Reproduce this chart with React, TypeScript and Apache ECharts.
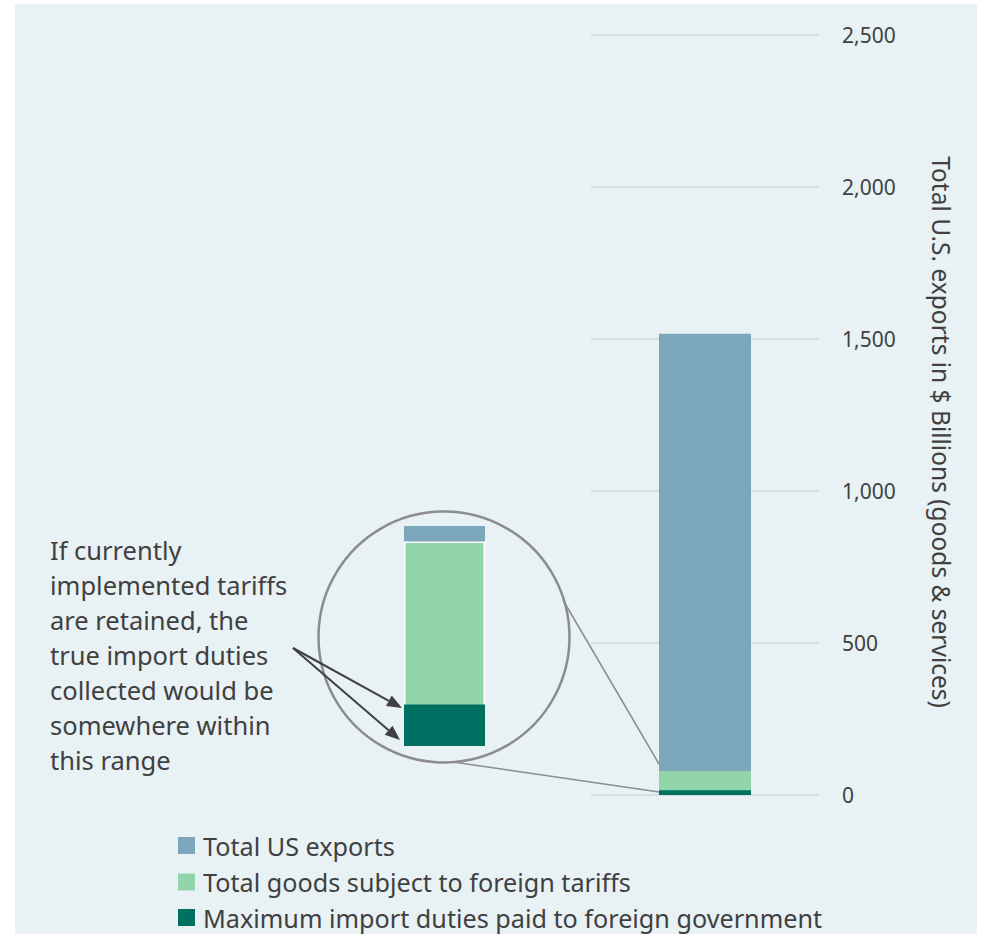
import React, { useEffect, useRef } from "react";
import * as echarts from "echarts";

// ---- data ----
const categories = ["U.S. exports"];
const totalExports = [1517];
const goodsSubjectToTariffs = [79];
const maxImportDuties = [16];
const seriesNames = [
  "Total US exports",
  "Total goods subject to foreign tariffs",
  "Maximum import duties paid to foreign government",
];
const yMin = 0;
const yMax = 2500;
const yInterval = 500;
const insetMax = 85;
const axisTitle = "Total U.S. exports in $ Billions (goods & services)";
const annotationLines = [
  "If currently",
  "implemented tariffs",
  "are retained, the",
  "true import duties",
  "collected would be",
  "somewhere within",
  "this range",
];

const COLORS = ["#7ba6bb", "#92d5ab", "#007062"];
const TEXT = "#404040";
const BG = "#e8f1f4";
const FONT = "'Noto Sans', 'Open Sans', sans-serif";

function arrow(x1: number, y1: number, x2: number, y2: number) {
  const dx = x2 - x1;
  const dy = y2 - y1;
  const len = Math.sqrt(dx * dx + dy * dy);
  const ux = dx / len;
  const uy = dy / len;
  const hl = 15;
  const hw = 6;
  const bx = x2 - ux * hl;
  const by = y2 - uy * hl;
  const px = -uy * hw;
  const py = ux * hw;
  return [
    {
      type: "line",
      shape: { x1, y1, x2: bx, y2: by },
      style: { stroke: TEXT, lineWidth: 2 },
      z: 20,
    },
    {
      type: "polygon",
      shape: {
        points: [
          [x2, y2],
          [bx + px, by + py],
          [bx - px, by - py],
        ],
      },
      style: { fill: TEXT },
      z: 20,
    },
  ];
}

export default function App() {
  const ref = useRef<HTMLDivElement>(null);

  useEffect(() => {
    document.body.style.margin = "0";
    if (!ref.current) return;
    const chart = echarts.init(ref.current, undefined, { renderer: "svg" });

    const barSeries = (gridIdx: number, width: number, withBorder: boolean) => [
      {
        name: seriesNames[0],
        type: "bar",
        xAxisIndex: gridIdx,
        yAxisIndex: gridIdx,
        data: totalExports,
        barWidth: width,
        barGap: "-100%",
        itemStyle: { color: COLORS[0] },
        z: 3,
      },
      {
        name: seriesNames[1],
        type: "bar",
        xAxisIndex: gridIdx,
        yAxisIndex: gridIdx,
        data: goodsSubjectToTariffs,
        barWidth: width,
        barGap: "-100%",
        itemStyle: withBorder
          ? { color: COLORS[1], borderColor: "#ffffff", borderWidth: 1.5 }
          : { color: COLORS[1] },
        z: 4,
      },
      {
        name: seriesNames[2],
        type: "bar",
        xAxisIndex: gridIdx,
        yAxisIndex: gridIdx,
        data: maxImportDuties,
        barWidth: width,
        barGap: "-100%",
        itemStyle: { color: COLORS[2] },
        z: 5,
      },
    ];

    const legendTops = [833, 869.5, 905];
    const legends = seriesNames.map((name, i) => ({
      orient: "horizontal",
      left: 178,
      top: legendTops[i],
      padding: 0,
      itemWidth: 17,
      itemHeight: 17,
      icon: "rect",
      data: [name],
      selectedMode: false,
      textStyle: {
        color: TEXT,
        fontSize: 25.2,
        fontFamily: FONT,
        lineHeight: 24,
        padding: [0, 0, 0, 3],
      },
    }));

    const option: any = {
      animation: false,
      textStyle: { fontFamily: FONT },
      grid: [
        { left: 591, right: 164, top: 35, bottom: 139 },
        { left: 404, right: 498, top: 526, bottom: 188 },
      ],
      xAxis: [
        {
          type: "category",
          gridIndex: 0,
          data: categories,
          axisLine: { show: false },
          axisTick: { show: false },
          axisLabel: { show: false },
        },
        {
          type: "category",
          gridIndex: 1,
          data: categories,
          axisLine: { show: false },
          axisTick: { show: false },
          axisLabel: { show: false },
        },
      ],
      yAxis: [
        {
          type: "value",
          gridIndex: 0,
          position: "right",
          min: yMin,
          max: yMax,
          interval: yInterval,
          axisLine: { show: false },
          axisTick: { show: false },
          splitLine: { lineStyle: { color: "#d6dee2", width: 2 } },
          axisLabel: {
            color: TEXT,
            fontSize: 21,
            fontFamily: FONT,
            margin: 23,
            formatter: (v: number) => v.toLocaleString("en-US"),
          },
        },
        {
          type: "value",
          gridIndex: 1,
          min: 0,
          max: insetMax,
          show: false,
          splitLine: { show: false },
        },
      ],
      legend: legends,
      graphic: [
        {
          type: "rect",
          shape: { x: 15, y: 4, width: 962, height: 940 },
          style: { fill: BG },
          z: -10,
          silent: true,
        },
        {
          type: "circle",
          shape: { cx: 444, cy: 637, r: 125.5 },
          style: { fill: "none", stroke: "#8c8c8c", lineWidth: 2.5 },
          z: 10,
        },
        {
          type: "line",
          shape: { x1: 563, y1: 600, x2: 659, y2: 764 },
          style: { stroke: "#8c8c8c", lineWidth: 1.5 },
          z: 10,
        },
        {
          type: "line",
          shape: { x1: 453, y1: 762, x2: 659, y2: 792 },
          style: { stroke: "#8c8c8c", lineWidth: 1.5 },
          z: 10,
        },
        ...arrow(293, 648, 402, 708),
        ...arrow(293, 648, 400, 740),
        {
          type: "text",
          x: 50,
          y: 532,
          style: {
            text: annotationLines.join("\n"),
            fill: TEXT,
            fontSize: 25.5,
            fontFamily: FONT,
            lineHeight: 35,
          },
          z: 20,
        },
        {
          type: "text",
          x: 941,
          y: 432,
          rotation: -Math.PI / 2,
          style: {
            text: axisTitle,
            fill: TEXT,
            fontSize: 24.5,
            fontFamily: FONT,
            align: "center",
            verticalAlign: "middle",
          },
          z: 20,
        },
      ],
      series: [...barSeries(0, 92, false), ...barSeries(1, 81, true)],
    };

    chart.setOption(option);
    return () => chart.dispose();
  }, []);

  return <div ref={ref} style={{ width: 983, height: 934 }} />;
}
